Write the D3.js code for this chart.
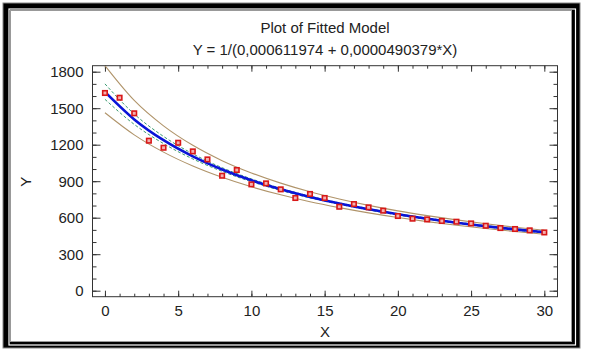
<!DOCTYPE html>
<html>
<head>
<meta charset="utf-8">
<script src="https://cdn.jsdelivr.net/npm/d3@7"></script>
<style>
  html, body { margin: 0; padding: 0; background: #fff; }
  svg { display: block; font-family: "Liberation Sans", Arial, sans-serif; }
</style>
</head>
<body>
<svg id="chart" width="589" height="350"></svg>
<script>
// ---------- data ----------
const titleText = "Plot of Fitted Model";
const subtitleText = "Y = 1/(0,000611974 + 0,0000490379*X)";
const xLabel = "X";
const yLabel = "Y";

const obsX = [0,1,2,3,4,5,6,7,8,9,10,11,12,13,14,15,16,17,18,19,20,21,22,23,24,25,26,27,28,29,30];
const obsY = [1625,1586,1458,1233,1175,1216,1145,1079,945,992,874,882,833,762,795,762,690,712,685,658,614,592,586,573,567,553,534,515,507,496,479];

const curveX   = [0,2,4,6,8,10,12,14,16,18,20,22,24,26,28,30];
const fitted   = [1634,1408,1237,1104,996,907,833,770,716,669,628,591,559,530,504,480];
const confUp   = [1700,1452,1268,1125,1011,919,842,777,722,675,633,597,564,535,509,486];
const confLo   = [1573,1367,1209,1083,981,896,824,763,710,663,622,586,554,525,498,475];
const predUp   = [1850,1564,1355,1195,1069,968,884,813,753,701,656,617,582,550,522,497];
const predLo   = [1463,1281,1139,1025,932,854,788,731,683,640,602,568,538,511,486,464];

const xMajorTicks = [0,5,10,15,20,25,30];
const yMajorTicks = [0,300,600,900,1200,1500,1800];

// ---------- drawing ----------
const svg = d3.select("#chart");

// outer double frame
svg.append("rect").attr("x",3).attr("y",3).attr("width",577).attr("height",345).attr("fill","#000");
svg.append("rect").attr("x",3).attr("y",3).attr("width",577).attr("height",345)
   .attr("fill","none").attr("stroke","#888").attr("stroke-width",1);
svg.append("rect").attr("x",9).attr("y",9).attr("width",566.5).attr("height",336)
   .attr("fill","none").attr("stroke","#fff").attr("stroke-width",1.2);
svg.append("rect").attr("x",10.5).attr("y",10.5).attr("width",561).attr("height",331)
   .attr("fill","#fff").attr("stroke","#999").attr("stroke-width",1);

const L = 92.5, R = 557.5, T = 65.7, B = 296.7;
const x = d3.scaleLinear().domain([-0.85, 30.9]).range([L, R]);
const y = d3.scaleLinear().domain([-49.3, 1849.3]).range([B, T]);

const d1 = d3.range(0, 31, 1);
const d100 = d3.range(0, 1801, 100);

function styleAxis(g) {
  g.select(".domain").remove();
  g.selectAll("line").attr("stroke", "#333").attr("stroke-width", 1);
  g.selectAll("text").attr("fill", "#222").style("font-size", "15px")
   .style("font-family", "'Liberation Sans', Arial, sans-serif");
}

// minor ticks
svg.append("g").attr("transform", `translate(${L},0)`)
  .call(d3.axisLeft(y).tickValues(d100).tickSize(-4).tickFormat("")).call(styleAxis);
svg.append("g").attr("transform", `translate(${R},0)`)
  .call(d3.axisRight(y).tickValues(d100).tickSize(-4).tickFormat("")).call(styleAxis);
svg.append("g").attr("transform", `translate(0,${B})`)
  .call(d3.axisBottom(x).tickValues(d1).tickSize(-3).tickFormat("")).call(styleAxis);
svg.append("g").attr("transform", `translate(0,${T})`)
  .call(d3.axisTop(x).tickValues(d1).tickSize(-3).tickFormat("")).call(styleAxis);

// major ticks + labels
svg.append("g").attr("transform", `translate(${L},0)`)
  .call(d3.axisLeft(y).tickValues(yMajorTicks).tickSize(-8).tickPadding(9).tickFormat(d3.format("d")))
  .call(styleAxis);
svg.append("g").attr("transform", `translate(${R},0)`)
  .call(d3.axisRight(y).tickValues(yMajorTicks).tickSize(-8).tickFormat("")).call(styleAxis);
svg.append("g").attr("transform", `translate(0,${B})`)
  .call(d3.axisBottom(x).tickValues(xMajorTicks).tickSize(-6).tickPadding(8.5).tickFormat(d3.format("d")))
  .call(styleAxis);
svg.append("g").attr("transform", `translate(0,${T})`)
  .call(d3.axisTop(x).tickValues(xMajorTicks).tickSize(-6).tickFormat("")).call(styleAxis);

// plot frame
svg.append("rect").attr("x", L).attr("y", T).attr("width", R - L).attr("height", B - T)
  .attr("fill", "none").attr("stroke", "#333").attr("stroke-width", 1);

// clip
svg.append("clipPath").attr("id", "clip").append("rect")
  .attr("x", L).attr("y", T).attr("width", R - L).attr("height", B - T);
const plot = svg.append("g").attr("clip-path", "url(#clip)");

const line = vals => d3.line().x((d, i) => x(curveX[i])).y(d => y(d)).curve(d3.curveMonotoneX)(vals);

plot.append("path").attr("d", line(predUp)).attr("fill", "none").attr("stroke", "#b0946a").attr("stroke-width", 1.1);
plot.append("path").attr("d", line(predLo)).attr("fill", "none").attr("stroke", "#b0946a").attr("stroke-width", 1.1);
plot.append("path").attr("d", line(confUp)).attr("fill", "none").attr("stroke", "#3a9a70").attr("stroke-width", 1).attr("stroke-dasharray", "3,2");
plot.append("path").attr("d", line(confLo)).attr("fill", "none").attr("stroke", "#3a9a70").attr("stroke-width", 1).attr("stroke-dasharray", "3,2");
plot.append("path").attr("d", line(fitted)).attr("fill", "none").attr("stroke", "#0a14d8").attr("stroke-width", 2.6);

plot.selectAll("rect.pt").data(obsY).enter().append("rect").attr("class", "pt")
  .attr("x", (d, i) => x(obsX[i]) - 2.25).attr("y", d => y(d) - 2.25)
  .attr("width", 4.5).attr("height", 4.5)
  .attr("fill", "#f3b0b0").attr("stroke", "#d81818").attr("stroke-width", 1.6);

// titles
const cx = (L + R) / 2;
svg.append("text").attr("x", cx).attr("y", 33).attr("text-anchor", "middle")
  .style("font-size", "15px").attr("fill", "#222").text(titleText);
svg.append("text").attr("x", cx).attr("y", 55).attr("text-anchor", "middle")
  .style("font-size", "15px").attr("fill", "#222").text(subtitleText);
svg.append("text").attr("x", cx).attr("y", 337).attr("text-anchor", "middle")
  .style("font-size", "15px").attr("fill", "#222").text(xLabel);
svg.append("text").attr("transform", "translate(31,181.7) rotate(-90)").attr("text-anchor", "middle")
  .style("font-size", "15px").attr("fill", "#222").text(yLabel);
</script>
</body>
</html>
